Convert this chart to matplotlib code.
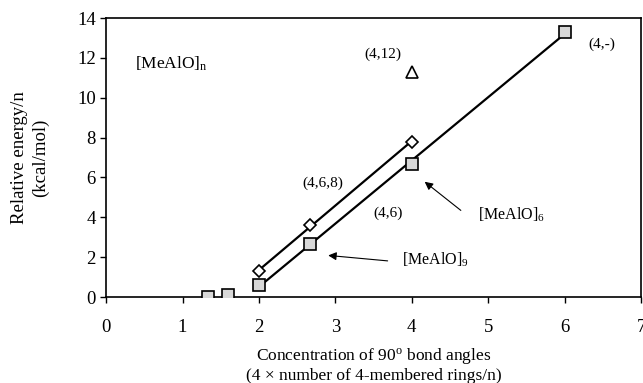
import numpy as np
import matplotlib.pyplot as plt

plt.rcParams['font.family'] = ['Liberation Serif', 'DejaVu Serif']
plt.rcParams['mathtext.fontset'] = 'stix'

# [MeAlO]n squares
sq_x = [1.33, 1.6, 2.0, 2.67, 4.0, 6.0]
sq_y = [0.0, 0.1, 0.6, 2.65, 6.65, 13.3]
# (4,6,8) diamonds
dm_x = [2.0, 2.67, 4.0]
dm_y = [1.3, 3.6, 7.8]
# (4,12) triangle
tr_x = [4.0]
tr_y = [11.3]

fig = plt.figure(figsize=(6.43, 3.83), dpi=100)
ax = fig.add_axes([0.165, 0.2245, 0.832, 0.7285])

# fitted lines
p_sq = np.polyfit(sq_x[2:], sq_y[2:], 1)
xs = np.array([2.0, 6.0])
ax.plot(xs, np.polyval(p_sq, xs), color='black', lw=1.6, zorder=2)
p_dm = np.polyfit(dm_x, dm_y, 1)
xd = np.array([2.0, 4.0])
ax.plot(xd, np.polyval(p_dm, xd), color='black', lw=1.6, zorder=2)

ax.plot(sq_x, sq_y, 's', ms=8.5, mfc='#d8d8d8', mec='black', mew=1.2, zorder=3)
ax.plot(dm_x, dm_y, 'D', ms=6, mfc='white', mec='black', mew=1.2, zorder=3)
ax.plot(tr_x, tr_y, '^', ms=8, mfc='white', mec='black', mew=1.2, zorder=3)

ax.text(0.38, 11.7, r'[MeAlO]$_\mathregular{n}$', fontsize=12.5, va='center')
ax.text(3.62, 12.2, '(4,12)', fontsize=11, ha='center', va='center')
ax.text(6.48, 12.7, '(4,-)', fontsize=11, ha='center', va='center')
ax.text(2.83, 5.7, '(4,6,8)', fontsize=11, ha='center', va='center')
ax.text(3.69, 4.2, '(4,6)', fontsize=11, ha='center', va='center')
ax.text(4.87, 4.1, r'[MeAlO]$_\mathregular{6}$', fontsize=11.5, va='center')
ax.text(3.87, 1.85, r'[MeAlO]$_\mathregular{9}$', fontsize=11.5, va='center')

ax.annotate('', xy=(4.14, 5.87), xytext=(4.67, 4.26),
            arrowprops=dict(arrowstyle='-|>', color='black', lw=0.8, mutation_scale=12))
ax.annotate('', xy=(2.87, 2.1), xytext=(3.72, 1.8),
            arrowprops=dict(arrowstyle='-|>', color='black', lw=0.8, mutation_scale=12))

ax.set_xlim(0, 7)
ax.set_ylim(0, 14)
ax.set_xticks(range(0, 8))
ax.set_yticks(range(0, 15, 2))
ax.tick_params(labelsize=13.5, direction='out', length=4, width=1)
ax.tick_params(axis='x', pad=12)
for s in ax.spines.values():
    s.set_linewidth(1.2)

ax.set_xlabel('Concentration of 90$^\\mathregular{o}$ bond angles\n(4 \u00d7 number of 4-membered rings/n)',
              fontsize=12.5, linespacing=1.1, labelpad=7)
ax.set_ylabel('Relative energy/n\n(kcal/mol)', fontsize=13.5, linespacing=1.3, labelpad=20)

fig.savefig('out.png', dpi=100, facecolor='white')
